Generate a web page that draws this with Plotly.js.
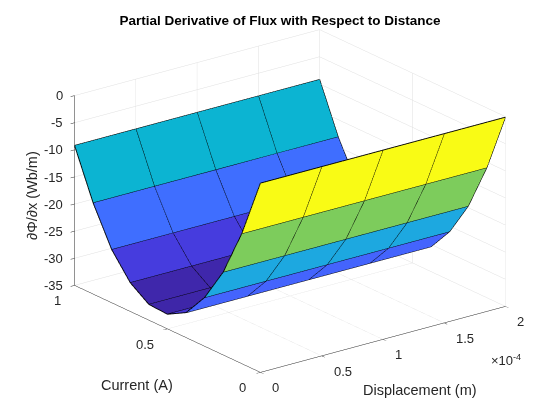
<!DOCTYPE html>
<html>
<head>
<meta charset="utf-8">
<script src="https://cdn.plot.ly/plotly-3.0.1.min.js"></script>
<style>html,body{margin:0;padding:0;background:#fff;}#plot{width:560px;height:420px;}</style>
</head>
<body>
<div id="plot"></div>
<script>
// ---- data ----
const displacement = [0, 0.5e-4, 1.0e-4, 1.5e-4, 2.0e-4];          // m
const current = [0, 0.1, 0.2, 0.3, 0.4, 0.5, 0.6, 0.7, 0.8, 0.9, 1.0]; // A
// dPhi/dx for each current value (same for every displacement)
const dPhidx = [-0.1, -11.0, -19.7, -26.0, -30.4, -32.3, -32.1, -29.7, -25.2, -18.2, -9.2];
const dispTickVals = [0, 0.5e-4, 1.0e-4, 1.5e-4, 2.0e-4];
const dispTickText = ['0', '0.5', '1', '1.5', '2'];
const currTickVals = [0, 0.5, 1];
const currTickText = ['0', '0.5', '1'];
const zTickVals = [-35, -30, -25, -20, -15, -10, -5, 0];
const zTickText = ['-35', '-30', '-25', '-20', '-15', '-10', '-5', '0'];

// MATLAB parula colormap
const parulaRGB = [
[0.2422,0.1504,0.6603],[0.2504,0.1650,0.7076],[0.2578,0.1818,0.7511],[0.2647,0.1978,0.7952],
[0.2706,0.2147,0.8364],[0.2751,0.2342,0.8710],[0.2783,0.2559,0.8991],[0.2803,0.2782,0.9221],
[0.2813,0.3006,0.9414],[0.2810,0.3228,0.9579],[0.2795,0.3447,0.9717],[0.2760,0.3667,0.9829],
[0.2699,0.3892,0.9906],[0.2602,0.4123,0.9952],[0.2440,0.4358,0.9988],[0.2206,0.4603,0.9973],
[0.1963,0.4847,0.9892],[0.1834,0.5074,0.9798],[0.1786,0.5289,0.9682],[0.1764,0.5499,0.9520],
[0.1687,0.5703,0.9359],[0.1540,0.5902,0.9218],[0.1460,0.6091,0.9079],[0.1380,0.6276,0.8973],
[0.1248,0.6459,0.8883],[0.1113,0.6635,0.8763],[0.0952,0.6798,0.8598],[0.0689,0.6948,0.8394],
[0.0297,0.7082,0.8163],[0.0036,0.7203,0.7917],[0.0067,0.7312,0.7660],[0.0433,0.7411,0.7394],
[0.0964,0.7500,0.7120],[0.1408,0.7584,0.6842],[0.1717,0.7670,0.6554],[0.1938,0.7758,0.6251],
[0.2161,0.7843,0.5923],[0.2470,0.7918,0.5567],[0.2906,0.7973,0.5188],[0.3406,0.8008,0.4789],
[0.3909,0.8029,0.4354],[0.4456,0.8024,0.3909],[0.5044,0.7993,0.3480],[0.5616,0.7942,0.3045],
[0.6174,0.7876,0.2612],[0.6720,0.7793,0.2227],[0.7242,0.7698,0.1910],[0.7738,0.7598,0.1646],
[0.8203,0.7498,0.1535],[0.8634,0.7406,0.1596],[0.9035,0.7330,0.1774],[0.9393,0.7288,0.2100],
[0.9728,0.7298,0.2394],[0.9956,0.7434,0.2371],[0.9970,0.7659,0.2199],[0.9952,0.7893,0.2028],
[0.9892,0.8136,0.1885],[0.9786,0.8386,0.1766],[0.9676,0.8639,0.1643],[0.9610,0.8890,0.1537],
[0.9597,0.9135,0.1423],[0.9628,0.9373,0.1265],[0.9691,0.9606,0.1064],[0.9769,0.9839,0.0805]];
const parula = parulaRGB.map((c, n) => [n / (parulaRGB.length - 1),
  'rgb(' + c.map(v => Math.round(v * 255)).join(',') + ')']);

// ---- build mesh (flat-coloured faces) ----
const nx = displacement.length, ny = current.length;
const vx = [], vy = [], vz = [];
for (let a = 0; a < ny; a++) for (let b = 0; b < nx; b++) {
  vx.push(displacement[b]); vy.push(current[a]); vz.push(dPhidx[a]);
}
const ti = [], tj = [], tk = [], cellC = [];
for (let a = 0; a < ny - 1; a++) for (let b = 0; b < nx - 1; b++) {
  const p = a * nx + b;
  ti.push(p); tj.push(p + 1); tk.push(p + nx); cellC.push(dPhidx[a]);
  ti.push(p + 1); tj.push(p + nx + 1); tk.push(p + nx); cellC.push(dPhidx[a]);
}
const zmin = Math.min(...dPhidx), zmax = Math.max(...dPhidx);

// ---- edge lines ----
const ex = [], ey = [], ez = [];
for (let a = 0; a < ny; a++) {
  for (let b = 0; b < nx; b++) { ex.push(displacement[b]); ey.push(current[a]); ez.push(dPhidx[a]); }
  ex.push(null); ey.push(null); ez.push(null);
}
for (let b = 0; b < nx; b++) {
  for (let a = 0; a < ny; a++) { ex.push(displacement[b]); ey.push(current[a]); ez.push(dPhidx[a]); }
  ex.push(null); ey.push(null); ez.push(null);
}

const traces = [
  {type: 'mesh3d', x: vx, y: vy, z: vz, i: ti, j: tj, k: tk,
   intensity: cellC, intensitymode: 'cell', colorscale: parula, cmin: zmin, cmax: zmax,
   showscale: false, flatshading: true, hoverinfo: 'skip',
   lighting: {ambient: 1, diffuse: 0, specular: 0, roughness: 1, fresnel: 0}},
  {type: 'scatter3d', mode: 'lines', x: ex, y: ey, z: ez,
   line: {color: '#000000', width: 1.8}, hoverinfo: 'skip', showlegend: false}
];

const FAM = 'Liberation Sans, Arial, Helvetica, sans-serif';
const tickFont = {family: FAM, size: 13, color: '#262626'};
const labFont = {family: FAM, size: 14.5, color: '#262626'};
const axBase = {showbackground: false, gridcolor: '#dfdfdf', gridwidth: 1, showline: true,
  linecolor: '#262626', linewidth: 1, zeroline: false, ticks: 'outside', tickcolor: '#262626',
  ticklen: 5, showspikes: false, showticklabels: false, title: {text: ''}};

// horizontal tick labels placed at the data positions (MATLAB style)
const ann3d = [];
dispTickVals.forEach((v, n) => ann3d.push({x: v, y: 0, z: -35, text: dispTickText[n],
  showarrow: false, xanchor: 'left', yanchor: 'middle', xshift: 10, yshift: -15, font: tickFont}));
currTickVals.forEach((v, n) => ann3d.push({x: 0, y: v, z: -35, text: currTickText[n],
  showarrow: false, xanchor: 'right', yanchor: 'middle', xshift: -12, yshift: -15, font: tickFont}));
zTickVals.forEach((v, n) => ann3d.push({x: 0, y: 1, z: v, text: zTickText[n],
  showarrow: false, xanchor: 'right', yanchor: 'middle', xshift: -10, yshift: 0, font: tickFont}));
ann3d.push({x: 2e-4, y: 0, z: -35, text: '×10<sup>-4</sup>', showarrow: false,
  xanchor: 'center', yanchor: 'middle', xshift: 1, yshift: -53, font: tickFont});
ann3d.push({x: 1e-4, y: 0, z: -35, text: 'Displacement (m)', showarrow: false,
  xanchor: 'center', yanchor: 'middle', xshift: 37, yshift: -50, font: labFont});
ann3d.push({x: 0, y: 0.5, z: -35, text: 'Current (A)', showarrow: false,
  xanchor: 'center', yanchor: 'middle', xshift: -31, yshift: -56, font: labFont});

const layout = {
  width: 560, height: 420, paper_bgcolor: '#ffffff', margin: {l: 0, r: 0, t: 0, b: 0},
  showlegend: false,
  title: {text: '<b>Partial Derivative of Flux with Respect to Distance</b>',
          font: {family: FAM, size: 13.5, color: '#000'},
          x: 0.5, xanchor: 'center', y: 0.952, yanchor: 'middle'},
  scene: {
    domain: {x: [0.036, 1], y: [0.042, 1]},
    aspectmode: 'manual', aspectratio: {x: 1.53, y: 1.53, z: 1.01},
    camera: {eye: {x: -1.13, y: -1.49, z: 0.71}, up: {x: 0, y: 0, z: 1},
             center: {x: 0, y: 0, z: 0}, projection: {type: 'orthographic'}},
    xaxis: Object.assign({}, axBase, {range: [0, 2e-4], tickvals: dispTickVals, ticktext: dispTickText}),
    yaxis: Object.assign({}, axBase, {range: [0, 1], tickvals: currTickVals, ticktext: currTickText}),
    zaxis: Object.assign({}, axBase, {range: [-35, 0], tickvals: zTickVals, ticktext: zTickText}),
    annotations: ann3d
  },
  annotations: [
    {xref: 'paper', yref: 'paper', x: 32 / 560, y: 1 - 196 / 420, xanchor: 'center', yanchor: 'middle',
     text: '∂Φ/∂x (Wb/m)', textangle: -90, showarrow: false, font: labFont}
  ]
};

Plotly.newPlot('plot', traces, layout, {displayModeBar: false});
</script>
</body>
</html>
